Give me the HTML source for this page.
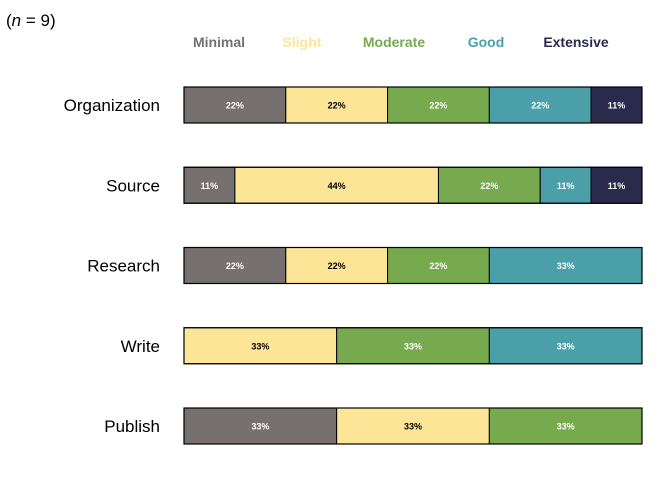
<!DOCTYPE html>
<html><head><meta charset="utf-8"><style>
body{margin:0;background:#fff;font-family:"Liberation Sans",sans-serif}
svg text{font-family:"Liberation Sans",sans-serif}
</style></head><body>
<svg id="c" width="672" height="480">
<text x="6" y="26" font-size="17" font-family="Liberation Serif">(<tspan font-style="italic">n</tspan> = 9)</text>
</svg>
<script>
const categories=["Organization","Source","Research","Write","Publish"];
const levels=["Minimal","Slight","Moderate","Good","Extensive"];
const colors=["#767170","#FDE598","#77A94F","#4A9FA8","#2A2A4C"];
const textColors=["#fff","#000","#fff","#fff","#fff"];
const minimal=[22,11,22,0,33];
const slight=[22,44,22,33,33];
const moderate=[22,22,22,33,33];
const good=[22,11,33,33,0];
const extensive=[11,11,0,0,0];
const legendX=[219,302,394,486,576];
const series=[minimal,slight,moderate,good,extensive];
const svg=document.getElementById('c');
const NS='http://www.w3.org/2000/svg';
const x0=184,x1=642,barH=36;
function yPos(i){return 87+i*80.25;}
function mk(t,a){const e=document.createElementNS(NS,t);for(const k in a)e.setAttribute(k,a[k]);svg.appendChild(e);return e;}
levels.forEach((l,j)=>{
 const t=mk('text',{x:legendX[j],y:47,'font-size':14,'font-weight':'bold','text-anchor':'middle',fill:colors[j]});
 t.textContent=l;
 
 
});
categories.forEach((c,i)=>{
 const y=yPos(i);
 const lab=mk('text',{x:160,y:y+24,'font-size':17,'text-anchor':'end',fill:'#000'});
 lab.textContent=c;
 
 
 let total=0;series.forEach(s=>total+=s[i]);
 let acc=0;
 series.forEach((s,j)=>{
  const v=s[i];if(!v)return;
  const xa=x0+(x1-x0)*acc/total, xb=x0+(x1-x0)*(acc+v)/total;
  acc+=v;
  const r=mk('rect',{x:xa,y:y,width:xb-xa,height:barH,fill:colors[j],stroke:'#000','stroke-width':1});
  
  
  const t=mk('text',{x:(xa+xb)/2,y:y+barH/2+3.5,'font-size':9,'font-weight':'bold','text-anchor':'middle',fill:textColors[j]});
  t.textContent=v+'%';
  
  
 });
 const o=mk('rect',{x:x0,y:y,width:x1-x0,height:barH,fill:'none',stroke:'#000','stroke-width':1.2});
 
 
});
</script>
</body></html>
